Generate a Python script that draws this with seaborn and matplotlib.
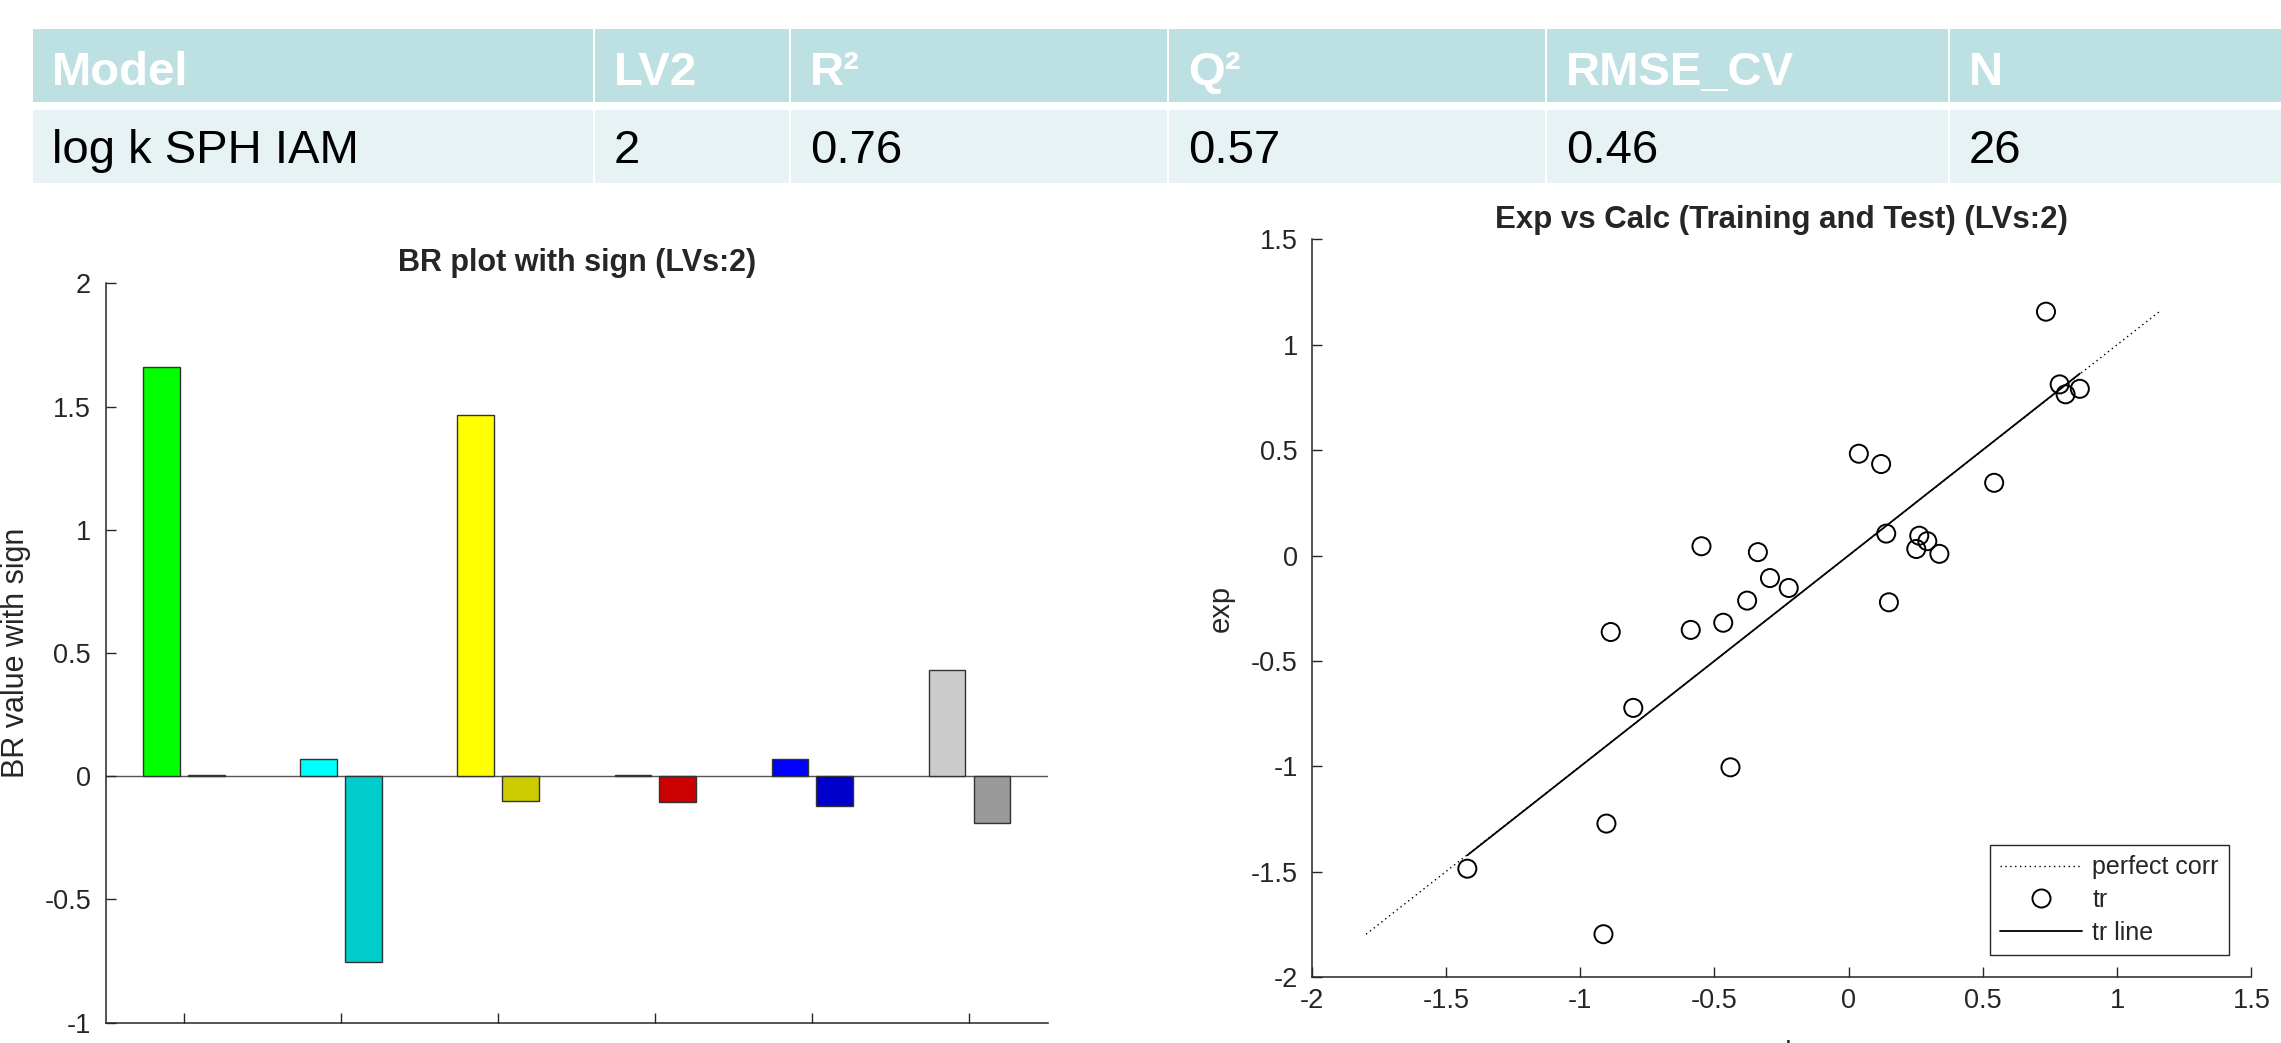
import numpy as np
import pandas as pd
import matplotlib
matplotlib.use("Agg")
import matplotlib.pyplot as plt
from matplotlib.lines import Line2D
from matplotlib.patches import Rectangle
from matplotlib.ticker import FuncFormatter
import seaborn as sns

# summary table
table_header = ["Model", "LV2", "R²", "Q²", "RMSE_CV", "N"]
table_row = ["log k SPH IAM", "2", "0.76", "0.57", "0.46", "26"]

# BR plot: 6 descriptors, one bar per LV
br_groups = ["1", "2", "3", "4", "5", "6"]
br_lv1 = [1.66, 0.07, 1.465, 0.003, 0.07, 0.43]
br_lv2 = [0.003, -0.755, -0.10, -0.103, -0.12, -0.19]
br_colors_lv1 = ["#00ff00", "#00ffff", "#ffff00", "#ff0000", "#0000ff", "#cccccc"]
br_colors_lv2 = ["#00cc00", "#00cccc", "#cccc00", "#cc0000", "#0000cc", "#999999"]

# exp vs calc (training set)
calc = [0.735, 0.786, 0.808, 0.861, 0.038, 0.121, 0.542, 0.140, 0.263, 0.252,
        0.293, 0.338, 0.150, -0.548, -0.338, -0.293, -0.223, -0.378, -0.467,
        -0.588, -0.886, -0.802, -0.440, -0.902, -1.420, -0.913]
exp = [1.157, 0.812, 0.765, 0.791, 0.483, 0.434, 0.345, 0.104, 0.094, 0.031,
       0.068, 0.008, -0.222, 0.044, 0.016, -0.107, -0.154, -0.214, -0.319,
       -0.353, -0.363, -0.723, -1.005, -1.272, -1.486, -1.797]

sns.set_theme(style="white")
plt.rcParams["font.family"] = ["Liberation Sans", "DejaVu Sans"]
plt.rcParams["axes.unicode_minus"] = False
plt.rcParams["axes.edgecolor"] = "#262626"
plt.rcParams["axes.linewidth"] = 1.1

W, H = 2281, 1043
fig = plt.figure(figsize=(W / 100, H / 100), dpi=100)


def px_rect(l, t, r, b):
    return [l / W, 1 - b / H, (r - l) / W, (b - t) / H]


fmt = FuncFormatter(lambda v, p: f"{round(v, 2) + 0.0:g}")

# ---- table on an overlay axes in pixel coords
tax = fig.add_axes([0, 0, 1, 1], zorder=-1)
tax.set_xlim(0, W)
tax.set_ylim(H, 0)
tax.axis("off")
col_edges = [32, 594, 790, 1168, 1546, 1949, W + 2]
for i in range(len(table_header)):
    x0, x1 = col_edges[i], col_edges[i + 1]
    tax.add_patch(Rectangle((x0 + 1, 29), x1 - x0 - 2, 73, color="#bde0e3", lw=0))
    tax.add_patch(Rectangle((x0 + 1, 110), x1 - x0 - 2, 73, color="#e6f2f4", lw=0))
    tax.text(x0 + 20, 85, table_header[i], color="white", fontsize=34,
             fontweight="bold", va="baseline", ha="left")
    tax.text(x0 + 20, 163, table_row[i], color="black", fontsize=34,
             va="baseline", ha="left")

# ---- BR plot
ax1 = fig.add_axes(px_rect(105.6, 283.3, 1048, 1022.6))
df = pd.DataFrame({"group": br_groups * 2,
                   "value": br_lv1 + br_lv2,
                   "lv": ["LV1"] * 6 + ["LV2"] * 6})
sns.barplot(data=df, x="group", y="value", hue="lv", order=br_groups,
            hue_order=["LV1", "LV2"], width=0.571, gap=0.18, errorbar=None,
            legend=False, edgecolor="#333333", linewidth=1.0, ax=ax1)
for cont, cols in zip(ax1.containers, [br_colors_lv1, br_colors_lv2]):
    for bar, c in zip(cont, cols):
        bar.set_facecolor(c)
ax1.axhline(0, color="#555555", lw=1.0, zorder=0.5)
ax1.set_xlim(-0.5, 5.5)
ax1.set_ylim(-1, 2)
ax1.set_yticks(np.arange(-1, 2.01, 0.5))
ax1.yaxis.set_major_formatter(fmt)
ax1.set_xticks(range(len(br_groups)))
ax1.set_xticklabels([])
ax1.set_xlabel("")
ax1.set_ylabel("BR value with sign", fontsize=22)
ax1.yaxis.set_label_coords(-0.079, 0.5)
ax1.set_title("BR plot with sign (LVs:2)", fontsize=22, fontweight="bold", pad=8.6)
ax1.tick_params(direction="in", length=7.2, width=1, colors="#262626",
                labelsize=19.5)
ax1.tick_params(axis="y", pad=10.5)
ax1.tick_params(bottom=True, left=True)
sns.despine(ax=ax1)

# ---- Exp vs Calc
ax2 = fig.add_axes(px_rect(1311.6, 239.4, 2251.4, 977))
lo = min(min(calc), min(exp))
hi = max(max(calc), max(exp))
ax2.plot([lo, hi], [lo, hi], color="black", ls=(0, (1, 2.5)), lw=1.0, zorder=1)
slope, icpt = np.polyfit(calc, exp, 1)
xs = np.array([min(calc), max(calc)])
ax2.plot(xs, slope * xs + icpt, color="black", lw=1.3, zorder=2)
sns.scatterplot(x=calc, y=exp, ax=ax2, marker="o", s=169,
                facecolor="none", edgecolor="black", linewidth=1.4, zorder=3)

ax2.set_xlim(-2, 1.5)
ax2.set_ylim(-2, 1.5)
ax2.set_xticks(np.arange(-2, 1.51, 0.5))
ax2.set_yticks(np.arange(-2, 1.51, 0.5))
ax2.xaxis.set_major_formatter(fmt)
ax2.yaxis.set_major_formatter(fmt)
ax2.tick_params(direction="in", length=7.2, width=1, colors="#262626",
                labelsize=19.5)
ax2.tick_params(axis="x", pad=8)
ax2.tick_params(axis="y", pad=9.8)
ax2.tick_params(bottom=True, left=True)
ax2.set_title("Exp vs Calc (Training and Test) (LVs:2)", fontsize=22.5,
              fontweight="bold", pad=8)
ax2.set_ylabel("exp", fontsize=21)
ax2.yaxis.set_label_coords(-0.0815, 0.5)
ax2.set_xlabel("calc", fontsize=20)
ax2.xaxis.set_label_coords(0.5, -0.0854)
sns.despine(ax=ax2)

h1 = Line2D([], [], color="black", ls=(0, (1, 2.5)), lw=1.0)
h2 = Line2D([], [], ls="none", marker="o", mfc="none", mec="black",
            ms=13, mew=1.4)
h3 = Line2D([], [], color="black", lw=1.3)
leg = ax2.legend([h1, h2, h3], ["perfect corr", "tr", "tr line"],
                 loc="lower right", bbox_to_anchor=(0.976, 0.03),
                 borderaxespad=0, fancybox=False, edgecolor="#262626",
                 framealpha=1, fontsize=18, handlelength=3.3,
                 handletextpad=0.4, labelspacing=0.35, borderpad=0.4)
leg.get_frame().set_linewidth(1.0)

fig.savefig("out.png", dpi=100)
